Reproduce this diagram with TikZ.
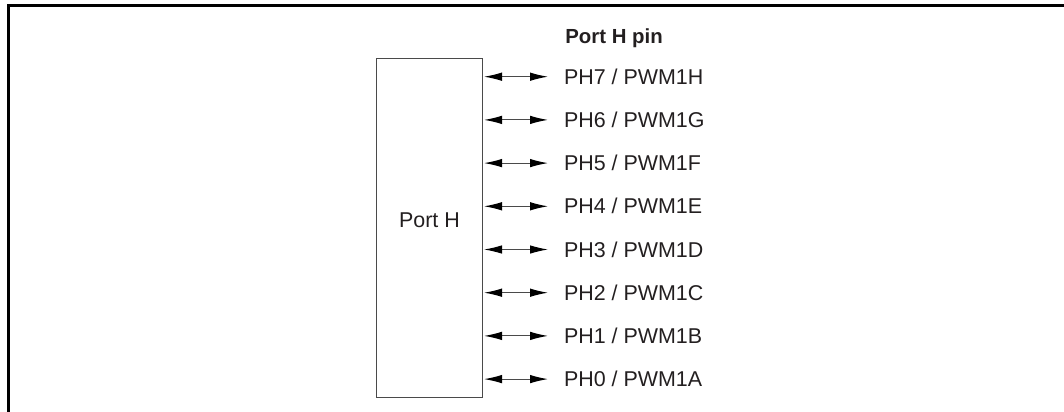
\documentclass[tikz,border=0pt]{standalone}
\usepackage{fontspec}
\setmainfont{Liberation Sans}
\usetikzlibrary{positioning, calc, arrows.meta}

\definecolor{inkdark}{HTML}{231F20}
\definecolor{linegray}{HTML}{4A4A4A}

\tikzset{
    frameline/.style={line width=1.4pt, black},
    portbox/.style={draw=linegray, line width=0.7pt, minimum width=2.112cm, minimum height=6.788cm, inner sep=0pt},
    pinlabel/.style={anchor=west, inner sep=0pt, outer xsep=0.32cm, text=inkdark, font=\fontsize{12.2}{14}\selectfont},
    pinarrow/.style={{Latex[length=0.36cm,width=0.17cm,black]}-{Latex[length=0.36cm,width=0.17cm,black]}, linegray, line width=0.6pt}
}

\begin{document}
\begin{tikzpicture}[x=0.02cm, y=-0.02cm]
    \useasboundingbox (0,0) rectangle (1064,412);

    % Frame
    \coordinate (FL) at (7,5.5);
    \coordinate (FR) at (1064,5.5);
    \coordinate (FB) at (8.5,412);
    \draw[frameline] (FL) -- (FR);
    \draw[frameline] (8.5,5) -- (FB);

    % Port block
    \node[portbox] (port) at (429.5,228) {};
    \node[text=inkdark, font=\fontsize{12.2}{14}\selectfont] (portname) at (429.5,220.5) {Port H};

    % Heading
    \node[anchor=base west, inner sep=0pt, text=inkdark, font=\bfseries\fontsize{11.6}{14}\selectfont] (pinhead) at (565,43.3) {Port H pin};

    % Pins
    \foreach \n/\l [count=\k from 0] in {7/H,6/G,5/F,4/E,3/D,2/C,1/B,0/A} {
        \coordinate (edge\n) at (484,76.7+43.2*\k);
        \node[pinlabel] (ph\n) at (548,76.7+43.2*\k) {PH\n\ / PWM1\l};
        \draw[pinarrow] (edge\n) -- (ph\n.west);
    }
\end{tikzpicture}
\end{document}
